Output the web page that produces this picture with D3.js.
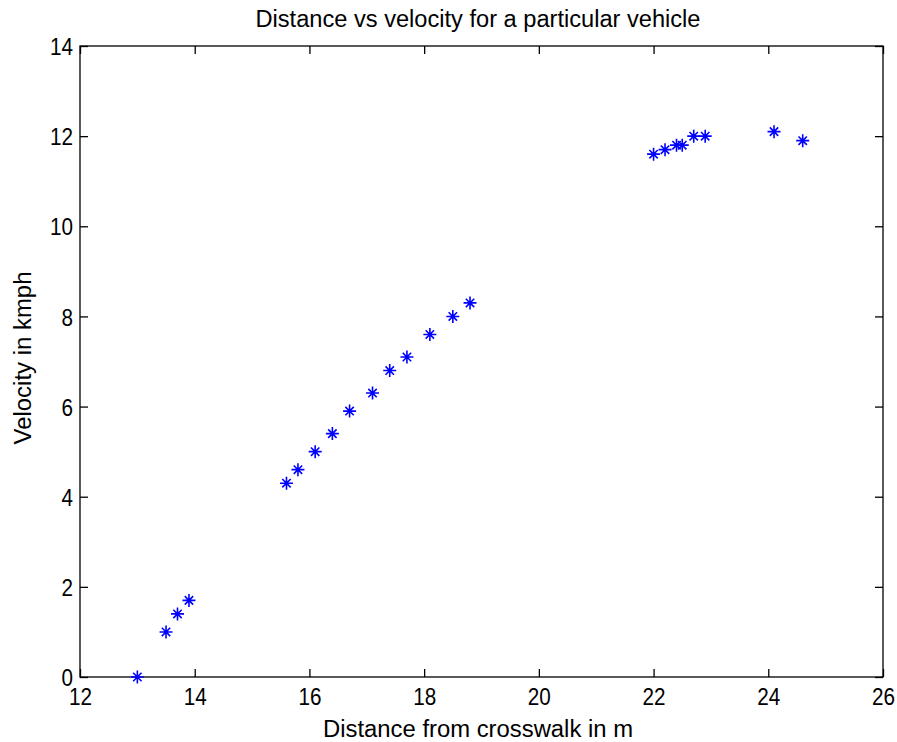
<!DOCTYPE html>
<html>
<head>
<meta charset="utf-8">
<script src="https://cdn.jsdelivr.net/npm/d3@7"></script>
<style>
  body { margin: 0; background: #fff; }
  text { font-family: "Liberation Sans", Arial, sans-serif; fill: #000; }
</style>
</head>
<body>
<div id="chart"></div>
<script>
// distance from crosswalk (m) and velocity (kmph)
const distance = [13.0, 13.5, 13.7, 13.9,
  15.6, 15.8, 16.1, 16.4, 16.7, 17.1, 17.4, 17.7, 18.1, 18.5, 18.8,
  22.0, 22.2, 22.4, 22.5, 22.7, 22.9, 24.1, 24.6]
const velocity = [0.0, 1.0, 1.4, 1.7,
  4.3, 4.6, 5.0, 5.4, 5.9, 6.3, 6.8, 7.1, 7.6, 8.0, 8.3,
  11.6, 11.7, 11.8, 11.8, 12.0, 12.0, 12.1, 11.9]
const xTicks = [12, 14, 16, 18, 20, 22, 24, 26]
const yTicks = [0, 2, 4, 6, 8, 10, 12, 14]

const data = distance.map((d, i) => ({x: d, y: velocity[i]}))

const W = 897, H = 742
const MARGIN = {TOP: 46, BOTTOM: 65, LEFT: 80, RIGHT: 14}
const WIDTH = W - MARGIN.LEFT - MARGIN.RIGHT
const HEIGHT = H - MARGIN.TOP - MARGIN.BOTTOM

const svg = d3.select("#chart").append("svg")
    .attr("width", W)
    .attr("height", H)

const g = svg.append("g")
    .attr("transform", `translate(${MARGIN.LEFT}, ${MARGIN.TOP})`)

const x = d3.scaleLinear().domain([12, 26]).range([0, WIDTH])
const y = d3.scaleLinear().domain([0, 14]).range([HEIGHT, 0])

const TICK = 8

// box
g.append("rect")
    .attr("width", WIDTH)
    .attr("height", HEIGHT)
    .attr("fill", "none")
    .attr("stroke", "#000")
    .attr("stroke-width", 1.3)

// axes with inward ticks, also mirrored top/right
const xAxis = d3.axisBottom(x).tickValues(xTicks).tickSizeInner(-TICK).tickSizeOuter(0).tickPadding(0)
const yAxis = d3.axisLeft(y).tickValues(yTicks).tickSizeInner(-TICK).tickSizeOuter(0).tickPadding(8)

const xg = g.append("g").attr("transform", `translate(0, ${HEIGHT})`).call(xAxis)
const yg = g.append("g").call(yAxis)
g.append("g").call(d3.axisTop(x).tickValues(xTicks).tickSizeInner(-TICK).tickSizeOuter(0).tickFormat(""))
g.append("g").attr("transform", `translate(${WIDTH}, 0)`)
  .call(d3.axisRight(y).tickValues(yTicks).tickSizeInner(-TICK).tickSizeOuter(0).tickFormat(""))

g.selectAll(".domain").remove()
g.selectAll(".tick line").attr("stroke", "#000").attr("stroke-width", 1.3)
g.selectAll(".tick text")
    .attr("font-size", 24)
    .attr("font-family", null)
    .attr("textLength", function() { return this.textContent.length * 11.5 })
    .attr("lengthAdjust", "spacingAndGlyphs")
xg.selectAll(".tick text").attr("y", 28).attr("dy", null)
yg.selectAll(".tick text").attr("x", -7).attr("dy", "0.36em")

// MATLAB style '*' marker
const A = 6.5, B = 4.2
const star = `M${-A},0L${A},0M0,${-A}L0,${A}M${-B},${-B}L${B},${B}M${-B},${B}L${B},${-B}`

g.selectAll("path.pt")
  .data(data)
  .enter().append("path")
    .attr("class", "pt")
    .attr("transform", d => `translate(${x(d.x)}, ${y(d.y)})`)
    .attr("d", star)
    .attr("fill", "none")
    .attr("stroke", "#0000ff")
    .attr("stroke-width", 1.6)

// title and labels
svg.append("text")
    .attr("x", 478)
    .attr("y", 27)
    .attr("text-anchor", "middle")
    .attr("font-size", 23)
    .attr("textLength", 445)
    .attr("lengthAdjust", "spacingAndGlyphs")
    .text("Distance vs velocity for a particular vehicle")

svg.append("text")
    .attr("x", 478)
    .attr("y", 737)
    .attr("text-anchor", "middle")
    .attr("font-size", 23)
    .attr("textLength", 310)
    .attr("lengthAdjust", "spacingAndGlyphs")
    .text("Distance from crosswalk in m")

svg.append("text")
    .attr("transform", `translate(31, 358) rotate(-90)`)
    .attr("text-anchor", "middle")
    .attr("font-size", 23)
    .attr("textLength", 173)
    .attr("lengthAdjust", "spacingAndGlyphs")
    .text("Velocity in kmph")
</script>
</body>
</html>
